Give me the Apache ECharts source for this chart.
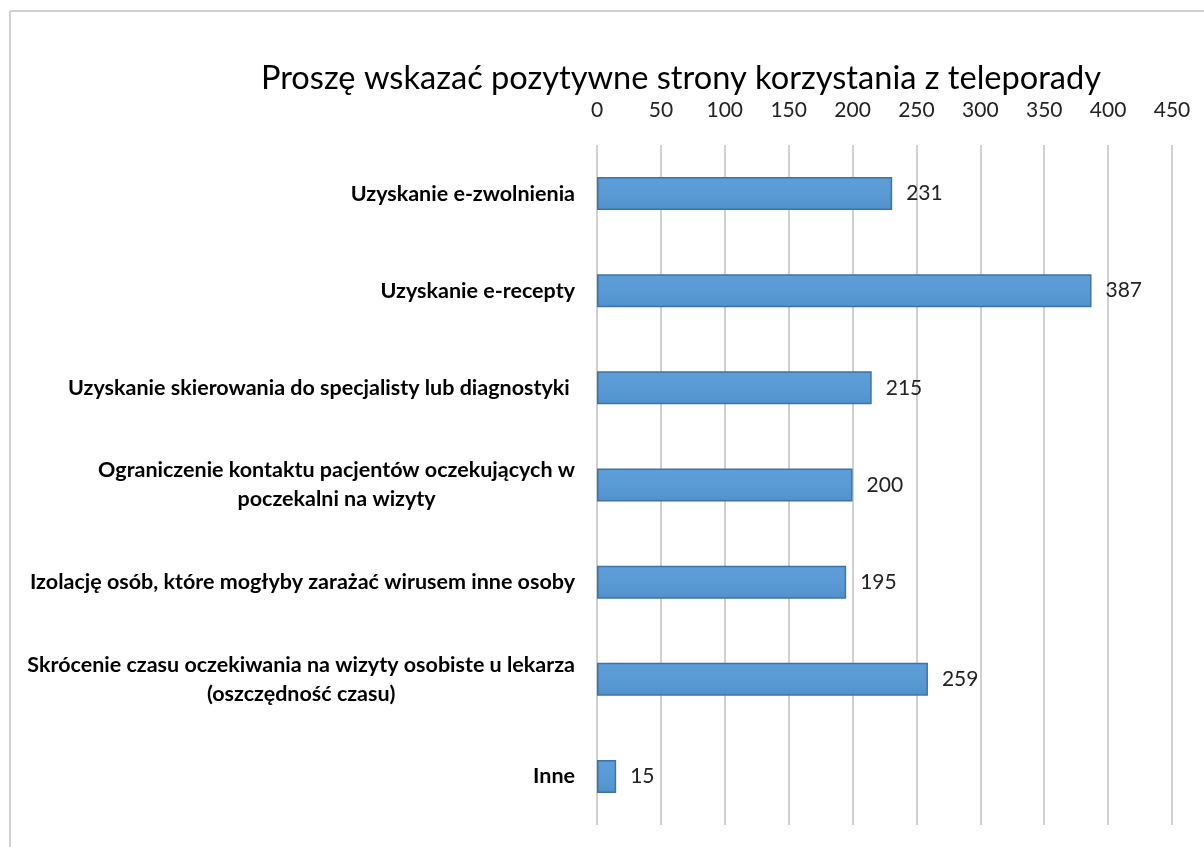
<!DOCTYPE html>
<html>
<head>
<meta charset="utf-8">
<script src="https://cdn.jsdelivr.net/npm/echarts@6/dist/echarts.min.js"></script>
<style>
html,body{margin:0;padding:0;background:#fff;}
#c{width:1204px;height:847px;}
</style>
</head>
<body>
<div id="c"></div>
<script>
const titleText = 'Proszę wskazać pozytywne strony korzystania z teleporady';
const categories = [
  'Uzyskanie e-zwolnienia',
  'Uzyskanie e-recepty',
  'Uzyskanie skierowania do specjalisty lub diagnostyki ',
  'Ograniczenie kontaktu pacjentów oczekujących w\npoczekalni na wizyty',
  'Izolację osób, które mogłyby zarażać wirusem inne osoby',
  'Skrócenie czasu oczekiwania na wizyty osobiste u lekarza\n(oszczędność czasu)',
  'Inne'
];
const values = [231, 387, 215, 200, 195, 259, 15];
const xMin = 0, xMax = 450, xStep = 50;

const chart = echarts.init(document.getElementById('c'));
chart.setOption({
  backgroundColor: '#fff',
  animation: false,
  title: {
    text: titleText,
    left: 676, top: 57, textAlign: 'center',
    textStyle: {fontFamily: 'Lato', fontSize: 32.6, fontWeight: 'normal', color: '#000'}
  },
  graphic: [
    {type: 'line', shape: {x1: 10, y1: 11, x2: 1204, y2: 11}, style: {stroke: '#d0d0d0', lineWidth: 2}},
    {type: 'line', shape: {x1: 10, y1: 11, x2: 10, y2: 847}, style: {stroke: '#d0d0d0', lineWidth: 2}}
  ],
  grid: {left: 597, right: 32, top: 145, bottom: 22, containLabel: false},
  xAxis: {
    type: 'value', position: 'top', min: xMin, max: xMax, interval: xStep,
    axisLine: {show: false}, axisTick: {show: false},
    axisLabel: {fontFamily: 'Lato', fontSize: 21, color: '#222', margin: 24},
    splitLine: {lineStyle: {color: '#d0d0d0', width: 2}}
  },
  yAxis: {
    type: 'category', inverse: true, data: categories,
    axisLine: {show: false}, axisTick: {show: false},
    axisLabel: {
      margin: 22, interval: 0,
      formatter: v => v.split('\n').map(s => '{a|' + s + '}').join('\n'),
      rich: {a: {fontFamily: 'Lato', fontWeight: 'bold', fontSize: 21.5, color: '#000', align: 'center', lineHeight: 29}}
    }
  },
  series: [{
    type: 'bar', data: values, barWidth: 33,
    itemStyle: {
      color: new echarts.graphic.LinearGradient(0, 0, 0, 1, [
        {offset: 0, color: '#5d9dd8'}, {offset: 0.5, color: '#5b9bd5'}, {offset: 1, color: '#5090cc'}
      ]),
      borderColor: '#3f73a8', borderWidth: 1.5
    },
    label: {show: true, position: 'right', distance: 14, fontFamily: 'Lato', fontSize: 21, color: '#222'}
  }]
});
</script>
</body>
</html>
